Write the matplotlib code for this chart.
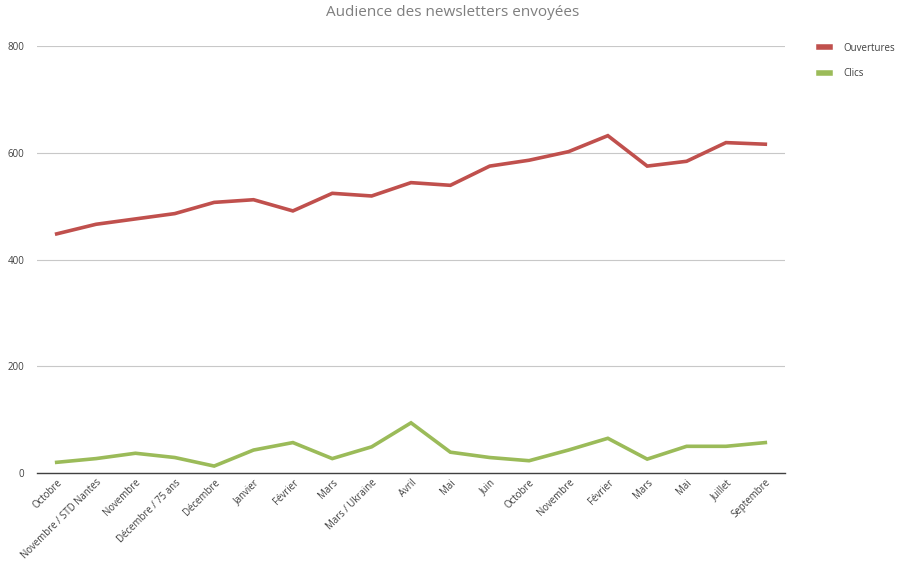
import matplotlib
matplotlib.use("Agg")
import matplotlib.pyplot as plt
from matplotlib.lines import Line2D

categories = ["Octobre", "Novembre / STD Nantes", "Novembre", "Décembre / 75 ans", "Décembre",
              "Janvier", "Février", "Mars", "Mars / Ukraine", "Avril", "Mai", "Juin",
              "Octobre", "Novembre", "Février", "Mars", "Mai", "Juillet", "Septembre"]
ouvertures = [448, 466, 476, 486, 507, 512, 491, 524, 519, 544, 539, 575, 586, 602, 632, 575, 584, 619, 616]
clics = [20, 27, 37, 29, 13, 43, 57, 27, 49, 94, 39, 29, 23, 43, 65, 26, 50, 50, 57]
yticks = [0, 200, 400, 600, 800]

plt.rcParams['font.family'] = ['Open Sans', 'DejaVu Sans']

fig = plt.figure(figsize=(9.06, 5.61), dpi=100)
ax = fig.add_axes([37/906, 1-473/561, (785-37)/906, (473-46)/561])

red = "#C0504D"
green = "#9BBB59"
x = list(range(len(categories)))
ax.plot(x, ouvertures, color=red, lw=2.6, solid_joinstyle='miter', label="Ouvertures")
ax.plot(x, clics, color=green, lw=2.6, solid_joinstyle='miter', label="Clics")

ax.set_xlim(-0.5, len(categories) - 0.5)
ax.set_ylim(0, 800)
ax.set_yticks(yticks)
ax.set_yticklabels([str(v) for v in yticks], fontsize=7, color="#404040")
ax.set_xticks(x)
ax.set_xticklabels(categories, rotation=45, ha='right', rotation_mode='anchor',
                   fontsize=6.9, color="#404040")
ax.tick_params(axis='x', length=0, pad=3)
ax.tick_params(axis='y', length=0, pad=9)
ax.grid(axis='y', color="#C8C8C8", lw=0.8)
ax.set_axisbelow(True)
for s in ['top', 'right', 'left']:
    ax.spines[s].set_visible(False)
ax.spines['bottom'].set_color("#404040")
ax.spines['bottom'].set_linewidth(1.0)

fig.text(453/906, 1-12/561, "Audience des newsletters envoyées", ha='center', va='center',
         fontsize=11, color="#7F7F7F")

handles = [Line2D([], [], color=red, lw=4), Line2D([], [], color=green, lw=4)]
fig.legend(handles, ["Ouvertures", "Clics"], loc='upper left', bbox_to_anchor=(810/906, 1-34/561),
           frameon=False, fontsize=7, handlelength=1.2, labelspacing=1.5, handletextpad=1.3,
           labelcolor="#404040")

fig.savefig("out.png", dpi=100, facecolor="white")
